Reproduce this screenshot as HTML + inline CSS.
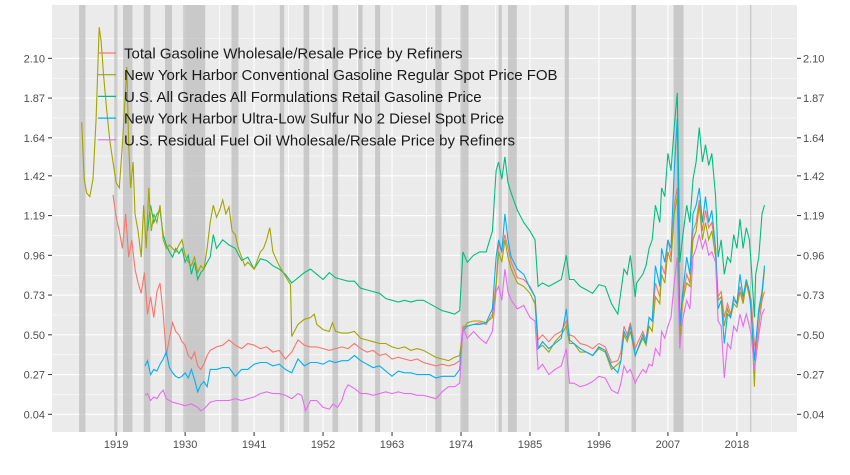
<!DOCTYPE html>
<html><head><meta charset="utf-8"><style>
html,body{margin:0;padding:0;background:#fff;}
svg{display:block;font-family:"Liberation Sans",sans-serif;}
</style></head><body>
<svg id="chart" width="850" height="475">
<rect x="52" y="5" width="745" height="427" fill="#EBEBEB"/>
<g id="grid"></g><g id="bands"></g><g id="series"></g><g id="axes"></g>
<g id="legend"></g>
</svg>
<script>
const yTickLabels=["0.04","0.27","0.50","0.73","0.96","1.19","1.42","1.64","1.87","2.10"];
const xTickLabels=[1919,1930,1941,1952,1963,1974,1985,1996,2007,2018];
const recessionStarts=[1913.1,1918.7,1920.1,1923.4,1926.8,1929.7,1937.4,1945.1,1948.9,1953.5,1957.6,1960.3,1969.9,1973.9,1980.0,1981.5,1990.5,2001.2,2007.9,2020.1];
const recessionEnds=[1914.1,1919.2,1921.6,1924.5,1927.9,1933.2,1938.5,1945.8,1949.8,1954.4,1958.3,1961.1,1970.9,1975.2,1980.5,1982.9,1991.2,2001.9,2009.5,2020.3];
const seriesNames=["Total Gasoline Wholesale/Resale Price by Refiners","New York Harbor Conventional Gasoline Regular Spot Price FOB","U.S. All Grades All Formulations Retail Gasoline Price","New York Harbor Ultra-Low Sulfur No 2 Diesel Spot Price","U.S. Residual Fuel Oil Wholesale/Resale Price by Refiners"];
const seriesColors=["#F8766D","#A3A500","#00BF7D","#00B0F6","#E76BF3"];
const redYears=[1918.5,1919,1919.5,1920,1920.5,1921,1921.5,1922,1922.5,1923,1923.5,1924,1924.5,1925,1925.5,1926,1926.5,1927,1927.5,1928,1928.5,1929,1929.5,1930,1930.5,1931,1931.5,1932,1932.5,1933,1933.5,1934,1935,1936,1937,1938,1939,1940,1941,1942,1943,1944,1945,1946,1947,1948,1949,1950,1951,1952,1953,1954,1955,1956,1957,1958,1959,1960,1961,1962,1963,1964,1965,1966,1967,1968,1969,1970,1971,1972,1973,1973.8,1974.3,1975,1976,1977,1978,1979,1979.6,1980,1980.5,1981,1981.5,1982,1983,1984,1985,1985.8,1986.3,1987,1988,1989,1990,1990.8,1991.3,1992,1993,1994,1995,1996,1997,1998,1999,1999.5,2000,2000.5,2001,2001.8,2002,2003,2003.5,2004,2004.5,2005,2005.7,2006,2006.5,2007,2007.5,2008,2008.5,2008.9,2009.3,2010,2010.5,2011,2011.5,2012,2012.5,2013,2013.5,2014,2014.6,2015,2015.5,2016,2016.5,2017,2017.5,2018,2018.5,2019,2019.5,2020,2020.3,2020.8,2021,2021.5,2022,2022.4];
const redValues=[1.31,1.18,1.10,1.00,1.20,0.95,1.05,0.88,0.80,0.74,0.86,0.62,0.72,0.60,0.75,0.80,0.62,0.38,0.48,0.57,0.52,0.50,0.46,0.44,0.38,0.36,0.40,0.32,0.30,0.33,0.38,0.41,0.43,0.44,0.47,0.44,0.42,0.45,0.44,0.42,0.43,0.40,0.41,0.36,0.40,0.47,0.44,0.43,0.43,0.42,0.41,0.42,0.43,0.42,0.45,0.42,0.40,0.41,0.38,0.39,0.36,0.37,0.36,0.35,0.36,0.34,0.33,0.32,0.33,0.32,0.33,0.35,0.55,0.55,0.56,0.57,0.56,0.62,0.80,1.03,0.98,1.08,1.00,0.92,0.83,0.82,0.78,0.72,0.47,0.50,0.46,0.50,0.52,0.58,0.50,0.49,0.45,0.44,0.42,0.45,0.43,0.34,0.35,0.40,0.55,0.50,0.57,0.42,0.44,0.52,0.47,0.60,0.58,0.80,0.72,0.90,0.85,1.05,0.95,1.25,1.35,0.55,0.70,0.85,0.80,1.10,1.15,1.28,1.10,1.22,1.12,1.15,1.00,0.72,0.75,0.60,0.68,0.62,0.70,0.68,0.78,0.70,0.82,0.74,0.70,0.45,0.40,0.55,0.70,0.75,0.85,0.82];
const oliveYears=[1913.5,1913.9,1914.3,1914.8,1915.3,1915.8,1916.3,1916.6,1917,1917.5,1918,1918.5,1919,1919.5,1920,1920.4,1920.7,1921,1921.3,1921.7,1922,1922.5,1923,1923.4,1923.8,1924.2,1924.6,1925,1925.5,1926,1926.5,1927,1927.5,1928,1928.5,1929,1929.5,1930,1930.5,1931,1931.5,1932,1932.5,1933,1933.5,1934,1934.5,1935,1935.5,1936,1936.5,1937,1937.5,1938,1938.5,1939,1939.5,1940,1941,1942,1942.5,1943,1943.5,1944,1945,1946,1946.8,1947,1948,1949,1950,1950.6,1951,1952,1953,1953.5,1954,1955,1956,1957,1958,1959,1960,1961,1962,1963,1964,1965,1966,1967,1968,1969,1970,1971,1972,1973,1973.8,1974.3,1975,1976,1977,1978,1979,1979.6,1980,1980.5,1981,1981.5,1982,1983,1984,1985,1985.8,1986.3,1987,1988,1989,1990,1990.8,1991.3,1992,1993,1994,1995,1996,1997,1998,1999,1999.5,2000,2000.5,2001,2001.8,2002,2003,2003.5,2004,2004.5,2005,2005.7,2006,2006.5,2007,2007.5,2008,2008.5,2008.9,2009.3,2010,2010.5,2011,2011.5,2012,2012.5,2013,2013.5,2014,2014.6,2015,2015.5,2016,2016.5,2017,2017.5,2018,2018.5,2019,2019.5,2020,2020.3,2020.8,2021,2021.5,2022,2022.4];
const oliveValues=[1.73,1.40,1.32,1.30,1.40,1.75,2.28,2.20,2.00,1.80,1.62,1.50,1.38,1.35,1.60,1.85,2.05,1.60,1.35,1.50,1.20,1.10,0.95,1.25,1.00,1.35,1.10,1.20,1.15,1.25,1.05,1.00,1.02,1.00,0.98,1.02,1.05,0.96,0.92,0.90,0.95,0.86,0.90,0.88,1.00,1.15,1.25,1.18,1.22,1.28,1.20,1.24,1.10,1.08,1.00,0.95,0.90,0.92,0.88,0.98,1.00,1.05,1.12,0.98,0.90,0.84,0.79,0.49,0.56,0.59,0.60,0.62,0.56,0.53,0.52,0.57,0.52,0.51,0.51,0.52,0.48,0.47,0.46,0.45,0.45,0.43,0.42,0.43,0.41,0.42,0.41,0.39,0.37,0.36,0.35,0.37,0.38,0.53,0.57,0.58,0.58,0.57,0.60,0.78,0.98,0.92,1.05,0.95,0.88,0.80,0.78,0.74,0.68,0.42,0.44,0.40,0.46,0.50,0.55,0.45,0.45,0.40,0.40,0.38,0.42,0.40,0.30,0.33,0.35,0.50,0.46,0.52,0.38,0.40,0.48,0.44,0.55,0.52,0.72,0.68,0.85,0.80,0.98,0.92,1.20,1.30,0.45,0.68,0.80,0.78,1.05,1.10,1.25,1.05,1.15,1.05,1.10,0.95,0.70,0.72,0.55,0.65,0.60,0.68,0.66,0.75,0.68,0.80,0.72,0.65,0.20,0.45,0.62,0.72,0.88,0.92];
const greenYears=[1924,1924.5,1925,1925.5,1926,1926.5,1927,1927.5,1928,1928.5,1929,1929.5,1930,1930.5,1931,1931.5,1932,1932.5,1933,1933.5,1934,1934.5,1935,1936,1937,1938,1939,1940,1941,1942,1943,1944,1945,1946,1947,1948,1949,1950,1951,1952,1953,1954,1955,1956,1957,1958,1959,1960,1961,1962,1963,1964,1965,1966,1967,1968,1969,1970,1971,1972,1973,1973.8,1974.3,1975,1976,1977,1978,1979,1979.6,1980,1980.5,1981,1981.5,1982,1983,1984,1985,1985.8,1986.3,1987,1988,1989,1990,1990.8,1991.3,1992,1993,1994,1995,1996,1997,1998,1999,1999.5,2000,2000.5,2001,2001.8,2002,2003,2003.5,2004,2004.5,2005,2005.7,2006,2006.5,2007,2007.5,2008,2008.5,2008.9,2009.3,2010,2010.5,2011,2011.5,2012,2012.5,2013,2013.5,2014,2014.6,2015,2015.5,2016,2016.5,2017,2017.5,2018,2018.5,2019,2019.5,2020,2020.3,2020.8,2021,2021.5,2022,2022.4];
const greenValues=[1.10,1.25,1.15,1.20,1.22,1.08,1.02,0.98,0.95,1.00,0.97,1.00,0.92,0.96,0.85,0.92,0.82,0.86,0.88,0.92,0.95,1.08,1.00,1.05,1.02,1.00,0.93,0.95,0.88,0.94,0.93,0.90,0.88,0.85,0.80,0.83,0.86,0.88,0.85,0.82,0.86,0.83,0.82,0.81,0.81,0.77,0.76,0.75,0.74,0.71,0.70,0.69,0.70,0.69,0.70,0.70,0.68,0.66,0.64,0.63,0.62,0.64,0.98,0.92,0.96,0.98,0.98,1.10,1.45,1.50,1.40,1.53,1.38,1.32,1.22,1.15,1.10,1.05,0.78,0.80,0.78,0.80,0.82,0.96,0.82,0.82,0.78,0.76,0.74,0.79,0.78,0.68,0.62,0.75,0.88,0.85,0.96,0.72,0.80,0.85,0.90,1.00,1.05,1.25,1.15,1.35,1.30,1.55,1.45,1.70,1.90,0.92,1.05,1.25,1.15,1.40,1.50,1.70,1.50,1.60,1.48,1.55,1.30,0.95,1.05,0.85,0.95,0.92,1.08,1.00,1.17,1.00,1.12,1.05,0.90,0.60,0.85,0.95,1.20,1.25,1.52];
const cyanYears=[1923.6,1924,1924.5,1925,1925.5,1926,1926.5,1927,1927.5,1928,1928.5,1929,1929.5,1930,1930.5,1931,1931.5,1932,1932.5,1933,1933.5,1934,1935,1936,1937,1938,1939,1940,1941,1942,1943,1944,1945,1946,1947,1948,1949,1950,1951,1952,1953,1954,1955,1956,1957,1958,1959,1960,1961,1962,1963,1964,1965,1966,1967,1968,1969,1970,1971,1972,1973,1973.8,1974.3,1975,1976,1977,1978,1979,1979.6,1980,1980.5,1981,1981.5,1982,1983,1984,1985,1985.8,1986.3,1987,1988,1989,1990,1990.8,1991.3,1992,1993,1994,1995,1996,1997,1998,1999,1999.5,2000,2000.5,2001,2001.8,2002,2003,2003.5,2004,2004.5,2005,2005.7,2006,2006.5,2007,2007.5,2008,2008.5,2008.9,2009.3,2010,2010.5,2011,2011.5,2012,2012.5,2013,2013.5,2014,2014.6,2015,2015.5,2016,2016.5,2017,2017.5,2018,2018.5,2019,2019.5,2020,2020.3,2020.8,2021,2021.5,2022,2022.4];
const cyanValues=[0.32,0.35,0.27,0.30,0.29,0.33,0.36,0.40,0.31,0.28,0.26,0.25,0.26,0.28,0.25,0.30,0.24,0.17,0.21,0.23,0.20,0.30,0.30,0.31,0.31,0.26,0.30,0.30,0.33,0.34,0.34,0.32,0.33,0.30,0.28,0.36,0.32,0.34,0.34,0.33,0.35,0.34,0.35,0.35,0.38,0.35,0.33,0.31,0.32,0.29,0.26,0.29,0.28,0.28,0.27,0.27,0.27,0.25,0.26,0.26,0.26,0.30,0.52,0.55,0.56,0.56,0.57,0.65,0.95,1.05,0.98,1.20,1.05,0.95,0.88,0.85,0.77,0.72,0.42,0.46,0.42,0.45,0.48,0.65,0.47,0.45,0.42,0.40,0.38,0.43,0.41,0.32,0.28,0.35,0.52,0.48,0.55,0.38,0.40,0.50,0.45,0.60,0.58,0.90,0.78,1.00,0.92,1.05,1.00,1.45,1.75,0.55,0.72,0.95,0.85,1.20,1.25,1.35,1.15,1.30,1.15,1.22,1.00,0.65,0.70,0.45,0.62,0.60,0.72,0.68,0.85,0.72,0.82,0.75,0.62,0.35,0.45,0.65,0.75,0.90,1.30,1.50];
const magentaYears=[1923.6,1924,1924.5,1925,1925.5,1926,1926.5,1927,1927.5,1928,1929,1930,1931,1932,1932.5,1933,1934,1935,1936,1937,1938,1939,1940,1941,1942,1943,1944,1945,1946,1947,1948,1948.6,1949.2,1950,1951,1952,1953,1953.6,1954.3,1955,1955.5,1956,1957,1958,1959,1960,1961,1962,1963,1964,1965,1966,1967,1968,1969,1970,1971,1972,1973,1973.8,1974.3,1975,1976,1977,1978,1979,1979.6,1980,1980.5,1981,1981.5,1982,1983,1984,1985,1985.8,1986.3,1987,1988,1989,1990,1990.8,1991.3,1992,1993,1994,1995,1996,1997,1998,1999,1999.5,2000,2000.5,2001,2001.8,2002,2003,2003.5,2004,2004.5,2005,2005.7,2006,2006.5,2007,2007.5,2008,2008.5,2008.9,2009.3,2010,2010.5,2011,2011.5,2012,2012.5,2013,2013.5,2014,2014.6,2015,2015.5,2016,2016.5,2017,2017.5,2018,2018.5,2019,2019.5,2020,2020.3,2020.8,2021,2021.5,2022,2022.4];
const magentaValues=[0.15,0.16,0.12,0.14,0.13,0.16,0.18,0.13,0.12,0.11,0.10,0.09,0.10,0.08,0.06,0.07,0.11,0.12,0.12,0.12,0.13,0.12,0.13,0.14,0.16,0.17,0.16,0.16,0.15,0.13,0.16,0.15,0.06,0.12,0.12,0.08,0.07,0.10,0.08,0.12,0.18,0.21,0.19,0.16,0.16,0.15,0.16,0.17,0.16,0.17,0.16,0.16,0.15,0.15,0.14,0.13,0.17,0.20,0.20,0.22,0.54,0.48,0.52,0.48,0.45,0.52,0.75,0.78,0.70,0.88,0.75,0.70,0.65,0.67,0.60,0.58,0.30,0.33,0.27,0.30,0.32,0.42,0.22,0.22,0.20,0.21,0.23,0.26,0.25,0.18,0.16,0.22,0.32,0.28,0.30,0.22,0.24,0.30,0.28,0.33,0.32,0.42,0.38,0.52,0.48,0.55,0.60,0.80,0.95,0.42,0.58,0.70,0.65,0.95,1.00,1.08,1.00,1.05,0.96,0.98,0.92,0.58,0.55,0.25,0.45,0.42,0.55,0.52,0.62,0.55,0.62,0.55,0.50,0.30,0.35,0.50,0.62,0.65,0.72,0.74];

const NS="http://www.w3.org/2000/svg";
const X0=52,X1=797,Y0=5,Y1=432;
function xs(yr){return 461+(yr-1974)*6.27;}
function ys(v){return 414.3-(v-0.04)*172.8;}
function mk(tag,attrs,parent){const e=document.createElementNS(NS,tag);for(const k in attrs)e.setAttribute(k,attrs[k]);parent.appendChild(e);return e;}
const grid=document.getElementById('grid'),bands=document.getElementById('bands'),ser=document.getElementById('series'),axes=document.getElementById('axes'),leg=document.getElementById('legend');
// grid
yTickLabels.forEach((t,i)=>{
  const v=parseFloat(t);const y=ys(v);
  const g=mk('line',{x1:X0,x2:X1,y1:y,y2:y,stroke:'#fff','stroke-width':1.1},grid);
  
  
  const ym=y-19.8;
  if(ym>Y0){const m=mk('line',{x1:X0,x2:X1,y1:ym,y2:ym,stroke:'#fff','stroke-width':0.5},grid);
  
  }
  const l=mk('text',{x:45,y:y+4,'text-anchor':'end','font-size':11,fill:'#4D4D4D'},axes);l.textContent=t;
  
  
  mk('line',{x1:48,x2:52,y1:y,y2:y,stroke:'#333'},axes);
  const r=mk('text',{x:803,y:y+4,'text-anchor':'start','font-size':11,fill:'#4D4D4D'},axes);r.textContent=t;
  
  
  mk('line',{x1:797,x2:801,y1:y,y2:y,stroke:'#333'},axes);
});
{const y=ys(0.04)+19.8;const m=mk('line',{x1:X0,x2:X1,y1:y,y2:y,stroke:'#fff','stroke-width':0.5},grid);

}
xTickLabels.forEach(yr=>{
  const x=xs(yr);
  const g=mk('line',{x1:x,x2:x,y1:Y0,y2:Y1,stroke:'#fff','stroke-width':1.1},grid);
  
  
  [-5.5,5.5].forEach(d=>{const xm=xs(yr+d);if(xm>X0&&xm<X1)mk('line',{x1:xm,x2:xm,y1:Y0,y2:Y1,stroke:'#fff','stroke-width':0.5},grid);});
  mk('line',{x1:x,x2:x,y1:432,y2:436,stroke:'#333'},axes);
  const t=mk('text',{x:x,y:448,'text-anchor':'middle','font-size':11,fill:'#4D4D4D'},axes);t.textContent=yr;
  
  
});
recessionStarts.forEach((s,i)=>{
  const r=mk('rect',{x:xs(s),y:Y0,width:Math.max(1,xs(recessionEnds[i])-xs(s)),height:Y1-Y0,fill:'#B3B3B3','fill-opacity':0.6},bands);
  
  
});
const allYears=[redYears,oliveYears,greenYears,cyanYears,magentaYears];
const allVals=[redValues,oliveValues,greenValues,cyanValues,magentaValues];
const order=[2,0,1,3,4];
const snames=['series-total-gasoline-wholesale','series-nyh-conventional-gasoline','series-retail-gasoline','series-nyh-ulsd-diesel','series-residual-fuel-oil'];
order.forEach(k=>{
  const yrs=allYears[k],vals=allVals[k];
  const d=yrs.map((yr,i)=>(i?'L':'M')+xs(yr).toFixed(1)+','+ys(vals[i]).toFixed(1)).join('');
  const p=mk('path',{d:d,fill:'none',stroke:seriesColors[k],'stroke-width':1.1},ser);
  
  
});
seriesNames.forEach((n,i)=>{
  const y=53+i*21.7;
  const l=mk('line',{x1:98,x2:116,y1:y,y2:y,stroke:seriesColors[i],'stroke-width':1.2},leg);
  
  
  const t=mk('text',{x:124,y:y+5.5,'font-size':15,fill:'#1A1A1A'},leg);t.textContent=n;
  
  
});
</script>
</body></html>
